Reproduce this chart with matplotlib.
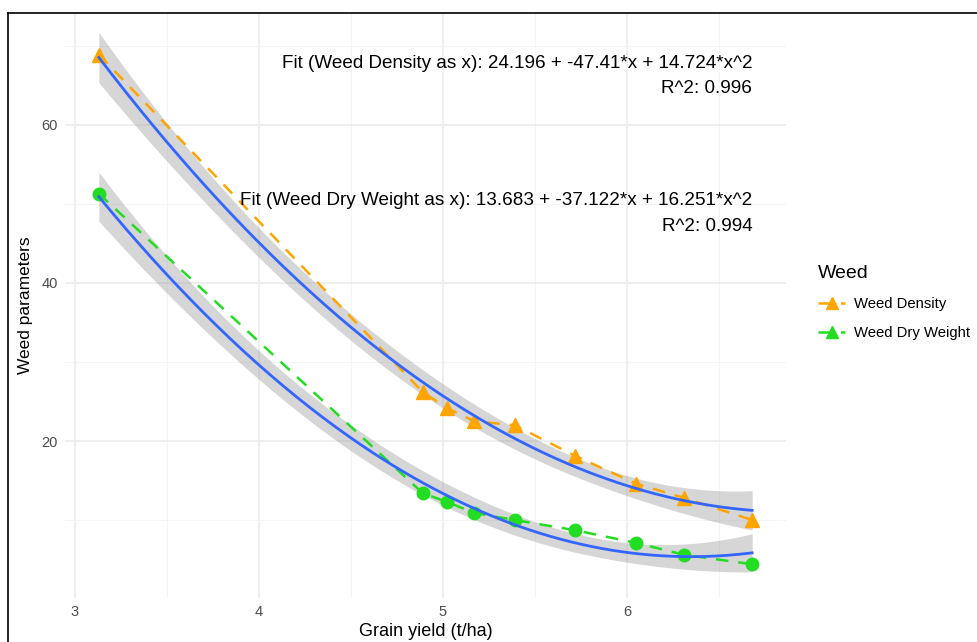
import numpy as np
import matplotlib
matplotlib.use("Agg")
import matplotlib.pyplot as plt
from matplotlib.lines import Line2D

# ---- data ----
grain_yield = [3.13, 4.89, 5.02, 5.17, 5.39, 5.72, 6.05, 6.31, 6.68]
weed_density = [68.9, 26.2, 24.2, 22.5, 22.0, 18.1, 14.6, 12.8, 10.0]
weed_dry_weight = [51.3, 13.4, 12.3, 10.9, 10.0, 8.7, 7.1, 5.6, 4.4]
series_names = ["Weed Density", "Weed Dry Weight"]
x_ticks = [3, 4, 5, 6]
y_ticks = [20, 40, 60]
fit_labels = [
    ("Fit (Weed Density as x): 24.196 + -47.41*x + 14.724*x^2", "R^2: 0.996"),
    ("Fit (Weed Dry Weight as x): 13.683 + -37.122*x + 16.251*x^2", "R^2: 0.994"),
]
label_y = [(67.8, 64.6), (50.4, 47.2)]

plt.rcParams['font.family'] = ['Liberation Sans', 'DejaVu Sans']

W, H = 977, 642
fig = plt.figure(figsize=(W / 100, H / 100), dpi=100)
ax = fig.add_axes([65 / W, 1 - 598 / H, (786 - 65) / W, (598 - 12) / H])

x = np.array(grain_yield)
T_CRIT = 2.446912  # t(0.975, df=6)


def quad_fit(x, y):
    X = np.column_stack([np.ones_like(x), x, x ** 2])
    beta, *_ = np.linalg.lstsq(X, y, rcond=None)
    resid = y - X @ beta
    s2 = resid @ resid / (len(x) - 3)
    XtXi = np.linalg.inv(X.T @ X)
    xs = np.linspace(x.min(), x.max(), 200)
    Xs = np.column_stack([np.ones_like(xs), xs, xs ** 2])
    yh = Xs @ beta
    se = np.sqrt(s2 * np.einsum('ij,jk,ik->i', Xs, XtXi, Xs))
    return xs, yh, yh - T_CRIT * se, yh + T_CRIT * se


colors = ["#FFA500", "#22DD22"]
markers = ["^", "o"]
msizes = [10, 9]

for yv, c, m, ms in zip([weed_density, weed_dry_weight], colors, markers, msizes):
    yv = np.array(yv)
    xs, yh, lo, hi = quad_fit(x, yv)
    ax.fill_between(xs, lo, hi, color="#999999", alpha=0.4, linewidth=0, zorder=2)
    ax.plot(x, yv, linestyle=(0, (5, 4)), color=c, lw=1.8, zorder=3)
    ax.plot(x, yv, linestyle="none", marker=m, color=c, markersize=ms, zorder=4)
    ax.plot(xs, yh, color="#3366FF", lw=2.0, zorder=5)

for (l1, l2), (y1, y2) in zip(fit_labels, label_y):
    ax.text(max(grain_yield), y1, l1, ha="right", va="center", fontsize=13.6, color="black", zorder=6)
    ax.text(max(grain_yield), y2, l2, ha="right", va="center", fontsize=13.6, color="black", zorder=6)

ax.set_xlim(2.946, 6.864)
ax.set_ylim(0.13, 74.3)
ax.set_xticks(x_ticks)
ax.set_yticks(y_ticks)
ax.set_xticks([3.5, 4.5, 5.5, 6.5], minor=True)
ax.set_yticks([10, 30, 50, 70], minor=True)
ax.grid(True, which="major", color="#EBEBEB", lw=1.1, zorder=0)
ax.grid(True, which="minor", color="#F3F3F3", lw=0.6, zorder=0)
ax.set_axisbelow(True)
for s in ax.spines.values():
    s.set_visible(False)
ax.tick_params(which="both", length=0, labelsize=10.5, labelcolor="#4D4D4D", pad=5)
ax.set_xlabel("Grain yield (t/ha)", fontsize=13, labelpad=3)
ax.set_ylabel("Weed parameters", fontsize=12.5, labelpad=6)

handles = [
    Line2D([], [], color=c, linestyle=(0, (5, 4)), lw=1.8, marker="^", markersize=9)
    for c in colors
]
leg = fig.legend(handles, series_names, title="Weed", loc="upper left",
                 bbox_to_anchor=(805 / W, 1 - 252 / H), frameon=False,
                 fontsize=10.7, title_fontsize=14, handlelength=1.8,
                 handletextpad=0.6, labelspacing=1.0, alignment="left")

# frame lines (top and left)
fig.add_artist(Line2D([8 / W, 1], [1 - 13 / H, 1 - 13 / H], color="black", lw=1.2, zorder=10))
fig.add_artist(Line2D([8 / W, 8 / W], [0, 1 - 13 / H], color="black", lw=1.2, zorder=10))

fig.savefig("out.png", dpi=100)
